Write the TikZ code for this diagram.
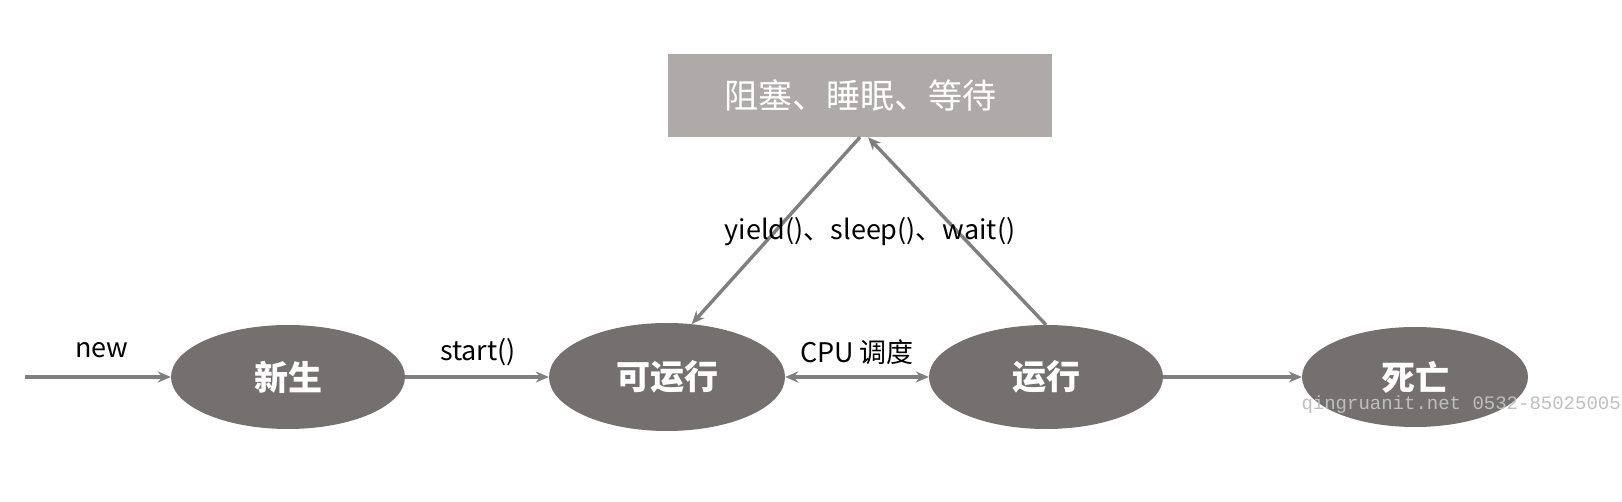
\documentclass[tikz,border=0pt]{standalone}
\usepackage{fontspec}
\setmainfont{Noto Sans CJK SC}
\newfontfamily\wmfont{Liberation Mono}
\usetikzlibrary{arrows.meta,positioning,shapes.geometric}
\definecolor{stateGray}{HTML}{747070}
\definecolor{boxGray}{HTML}{AEAAAA}
\definecolor{lineGray}{HTML}{7F7F7F}
\tikzset{
  >={Stealth[length=13pt,width=11pt]},
  state/.style={ellipse, fill=stateGray, draw=none, text=white, font=\bfseries\fontsize{34}{38}\selectfont},
  flow/.style={->, draw=lineGray, line width=3.4pt},
  lbl/.style={font=\fontsize{27}{32}\selectfont, text=black}
}
\begin{document}
\begin{tikzpicture}[x=1pt,y=-1pt]
\useasboundingbox (0,0) rectangle (1622,502);

% blocked box
\node[fill=boxGray, minimum width=384pt, minimum height=83pt, text=white,
      font=\fontsize{34}{38}\selectfont] (blocked) at (860,95.5) {阻塞、睡眠、等待};

% states
\node[state, minimum width=234pt, minimum height=104pt] (new) at (288,377) {新生};
\node[state, minimum width=236pt, minimum height=108pt] (ready) at (667,377) {可运行};
\node[state, minimum width=234pt, minimum height=104pt] (run) at (1046,377) {运行};
\node[state, minimum width=226pt, minimum height=100pt] (dead) at (1415,377) {死亡};
\coordinate (start) at (25,377);

% transitions
\draw[flow] (start) -- (new.west);
\draw[flow] (new.east) -- (ready.west);
\draw[flow, <->] (ready.east) -- (run.west);
\draw[flow] (run.east) -- (dead.west);
\draw[flow] (blocked.south) -- (ready.65);
\draw[flow] (run.north) -- ([xshift=8pt]blocked.south);

% labels
\node[lbl] (lnew) at (102,350) {new};
\node[lbl] (lstart) at (478,352) {start()};
\node[lbl] (lcpu) at (857,352) {CPU 调度};
\node[lbl] (lyield) at (870,232) {yield()、sleep()、wait()};
\node[font=\wmfont\fontsize{19}{22}\selectfont, text=black!25, anchor=west] (wm) at (1298,405) {qingruanit.net 0532-85025005};
\end{tikzpicture}
\end{document}
